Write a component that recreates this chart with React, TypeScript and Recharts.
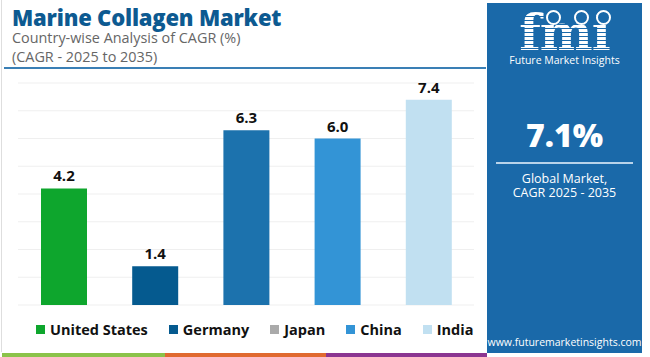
import { BarChart, Bar, XAxis, YAxis, CartesianGrid, Cell, LabelList } from 'recharts';

const countries = ['United States', 'Germany', 'Japan', 'China', 'India'];
const cagr = [4.2, 1.4, 6.3, 6.0, 7.4];
const barColors = ['#0ea62d', '#055a8f', '#1c72ad', '#3394d6', '#c1e0f1'];
const legendColors = ['#0ea62d', '#055a8f', '#aaaaaa', '#3394d6', '#c1e0f1'];
const yTicks = [0, 1, 2, 3, 4, 5, 6, 7, 8];

const chartData = countries.map((country, i) => ({ country, cagr: cagr[i] }));

const font = '"Open Sans", Roboto, sans-serif';
const panelBlue = '#1a69a9';

const ring = (left: number) => (
  <div style={{ position: 'absolute', left, top: 7, width: 11, height: 11, borderRadius: '50%', border: '2px solid #fff', background: panelBlue }} />
);

export default function App() {
  return (
    <div style={{ position: 'absolute', left: 0, top: 0, width: 650, height: 357, background: '#fff', overflow: 'hidden', fontFamily: font }}>
      {/* header */}
      <div style={{ position: 'absolute', left: 1, top: 0, bottom: 5, width: 1, background: '#dedede' }} />
      <div style={{ position: 'absolute', left: 12, top: 5, fontSize: 22, fontWeight: 800, color: '#0d5a91', lineHeight: '24px', letterSpacing: -0.2 }}>
        Marine Collagen Market
      </div>
      <div style={{ position: 'absolute', left: 12, top: 29, fontSize: 14.4, color: '#666', lineHeight: '17px' }}>
        Country-wise Analysis of CAGR (%)
      </div>
      <div style={{ position: 'absolute', left: 12, top: 48, fontSize: 14.4, color: '#666', lineHeight: '17px' }}>
        (CAGR - 2025 to 2035)
      </div>
      <div style={{ position: 'absolute', left: 4, top: 67, width: 482, height: 2, background: '#3a7fb5' }} />

      {/* chart */}
      <div style={{ position: 'absolute', left: 0, top: 60 }}>
        <BarChart width={487} height={260} data={chartData} margin={{ top: 23, right: 13, bottom: 15, left: 18 }}>
          <CartesianGrid vertical={false} stroke="#efefef" />
          <XAxis dataKey="country" hide />
          <YAxis hide domain={[0, 8]} ticks={yTicks} />
          <Bar dataKey="cagr" barSize={46} isAnimationActive={false}>
            {chartData.map((d, i) => (
              <Cell key={d.country} fill={barColors[i]} />
            ))}
            <LabelList dataKey="cagr" position="top" offset={7} formatter={(v: any) => Number(v).toFixed(1)}
              style={{ fontFamily: font, fontSize: 15, fontWeight: 700, fill: '#111' }} />
          </Bar>
        </BarChart>
      </div>

      {/* legend */}
      <div style={{ position: 'absolute', left: 36, top: 319, display: 'flex', gap: 21, alignItems: 'center', height: 20 }}>
        {countries.map((c, i) => (
          <div key={c} style={{ display: 'flex', alignItems: 'center', gap: 5 }}>
            <span style={{ width: 9, height: 9, background: legendColors[i], display: 'inline-block' }} />
            <span style={{ fontSize: 14.5, fontWeight: 700, color: '#111' }}>{c}</span>
          </div>
        ))}
      </div>

      {/* bottom stripe */}
      <div style={{ position: 'absolute', left: 2, top: 353, width: 163, height: 4, background: '#8bc34a' }} />
      <div style={{ position: 'absolute', left: 165, top: 353, width: 161, height: 4, background: '#e06a30' }} />
      <div style={{ position: 'absolute', left: 326, top: 353, width: 161, height: 4, background: '#8b3591' }} />

      {/* side panel */}
      <div style={{ position: 'absolute', left: 487, top: 3, width: 155, height: 350, background: panelBlue, color: '#fff', textAlign: 'center' }}>
        <div style={{ position: 'absolute', left: 0, right: 0, top: 10, fontFamily: '"DejaVu Serif", serif', fontSize: 50, fontWeight: 700, lineHeight: '40px', letterSpacing: -1 }}>
          fmi
        </div>
        <div style={{ position: 'absolute', left: 20, right: 20, top: 10, height: 38, background: `repeating-linear-gradient(to bottom, transparent 0px, transparent 3px, ${panelBlue} 3px, ${panelBlue} 4px)` }} />
        {ring(59)}
        {ring(87)}
        {ring(109)}
        <div style={{ position: 'absolute', left: 0, right: 0, top: 51, fontSize: 10.5, lineHeight: '13px' }}>Future Market Insights</div>
        <div style={{ position: 'absolute', left: 0, right: 0, top: 114, fontSize: 32, fontWeight: 800, lineHeight: '36px' }}>7.1%</div>
        <div style={{ position: 'absolute', left: 9, right: 9, top: 159, height: 2, background: '#b8d3ea' }} />
        <div style={{ position: 'absolute', left: 0, right: 0, top: 169, fontSize: 12.5, lineHeight: '14px' }}>Global Market,</div>
        <div style={{ position: 'absolute', left: 0, right: 0, top: 183, fontSize: 12.5, lineHeight: '14px' }}>CAGR 2025 - 2035</div>
        <div style={{ position: 'absolute', left: 0, right: 0, top: 332, fontSize: 10.5, lineHeight: '14px' }}>www.futuremarketinsights.com</div>
      </div>
    </div>
  );
}
